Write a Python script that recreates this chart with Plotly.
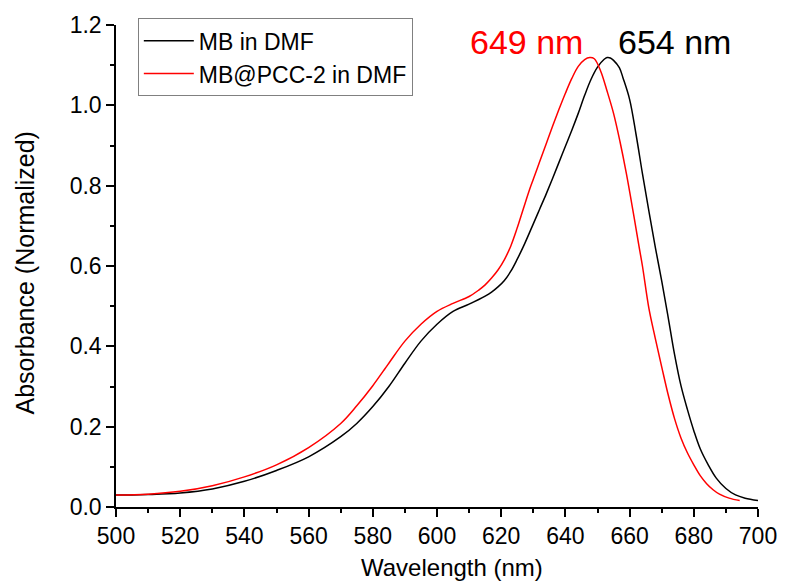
import plotly.graph_objects as go

# Wavelength (nm) / normalized absorbance
mb_x = [500, 505, 510, 520, 530, 540, 550, 560, 570, 575, 580, 585, 590, 595, 600, 605, 610,
        615, 617, 619, 621, 623, 625, 627, 630, 632, 634, 636, 638, 640, 642, 644, 646, 648,
        650, 652, 653, 654, 655, 656.8, 658, 660, 662, 664, 666, 668, 670, 672, 674, 676, 678,
        680, 682, 684.5, 687, 690, 693, 696, 700]
mb_y = [0.030, 0.030, 0.031, 0.035, 0.045, 0.064, 0.091, 0.125, 0.175, 0.208, 0.250, 0.300,
        0.358, 0.413, 0.455, 0.487, 0.505, 0.525, 0.535, 0.548, 0.564, 0.587, 0.617, 0.650,
        0.705, 0.742, 0.779, 0.818, 0.858, 0.898, 0.938, 0.980, 1.025, 1.065, 1.095, 1.114,
        1.119, 1.118, 1.112, 1.094, 1.067, 1.015, 0.928, 0.830, 0.737, 0.647, 0.563, 0.473,
        0.380, 0.302, 0.243, 0.190, 0.145, 0.105, 0.072, 0.046, 0.030, 0.022, 0.016]

pcc_x = [500, 510, 520, 530, 540, 550, 560, 570, 575, 580, 585, 590, 595, 600, 605, 610, 613,
         615, 617, 619, 621, 623, 625, 627, 629, 630, 632, 634, 636, 638, 640, 642, 644, 646,
         647.6, 649, 651, 653, 655, 657, 659, 661, 662.8, 664, 666, 668, 670, 672, 674, 676,
         678, 680, 682, 684, 686, 688, 691, 694.3]
pcc_y = [0.030, 0.032, 0.039, 0.053, 0.075, 0.105, 0.148, 0.208, 0.252, 0.302, 0.358, 0.413,
         0.455, 0.487, 0.507, 0.524, 0.540, 0.553, 0.570, 0.590, 0.616, 0.650, 0.695, 0.745,
         0.794, 0.816, 0.860, 0.904, 0.948, 0.990, 1.030, 1.067, 1.097, 1.114, 1.119, 1.116,
         1.085, 1.035, 0.980, 0.910, 0.830, 0.740, 0.655, 0.600, 0.495, 0.420, 0.349, 0.280,
         0.220, 0.172, 0.135, 0.105, 0.078, 0.058, 0.043, 0.032, 0.022, 0.016]

series_names = ["MB in DMF", "MB@PCC-2 in DMF"]
peak_labels = ["654 nm", "649 nm"]
x_ticks = list(range(500, 701, 20))
y_ticks = [0.0, 0.2, 0.4, 0.6, 0.8, 1.0, 1.2]

FONT = "Liberation Sans, Arial, sans-serif"

fig = go.Figure()
fig.add_trace(go.Scatter(x=mb_x, y=mb_y, mode="lines", name=series_names[0],
                         line=dict(color="black", width=1.5, shape="spline", smoothing=1.0)))
fig.add_trace(go.Scatter(x=pcc_x, y=pcc_y, mode="lines", name=series_names[1],
                         line=dict(color="#ff0000", width=1.5, shape="spline", smoothing=1.0)))

fig.update_layout(
    width=789, height=583,
    margin=dict(l=116, r=22, t=24, b=76),
    paper_bgcolor="white", plot_bgcolor="white",
    font=dict(family=FONT, size=23, color="black"),
    showlegend=True,
    legend=dict(x=0.034, y=1.014, xanchor="left", yanchor="top",
                bgcolor="white", bordercolor="#808080", borderwidth=1,
                font=dict(size=23, family=FONT), itemwidth=50, tracegroupgap=0),
    xaxis=dict(range=[500, 700], tickvals=x_ticks, ticktext=[str(v) for v in x_ticks],
               showline=True, linecolor="black", linewidth=1.5, mirror=False,
               ticks="outside", ticklen=8, tickwidth=1.5, tickcolor="black",
               showgrid=False, zeroline=False,
               minor=dict(dtick=10, tick0=500, ticks="outside", ticklen=4, tickwidth=1.5,
                          tickcolor="black", showgrid=False),
               tickfont=dict(size=23, family=FONT)),
    yaxis=dict(range=[0, 1.2], tickvals=y_ticks, ticktext=[f"{v:.1f}" for v in y_ticks],
               showline=True, linecolor="black", linewidth=1.5, mirror=False,
               ticks="outside", ticklen=8, tickwidth=1.5, tickcolor="black",
               showgrid=False, zeroline=False,
               minor=dict(dtick=0.1, tick0=0, ticks="outside", ticklen=4, tickwidth=1.5,
                          tickcolor="black", showgrid=False),
               tickfont=dict(size=23, family=FONT)),
)

fig.add_annotation(x=0.524, y=-0.126, xref="paper", yref="paper", text="Wavelength (nm)",
                   showarrow=False, xanchor="center", yanchor="middle",
                   font=dict(size=24, family=FONT, color="black"))
fig.add_annotation(x=-0.1413, y=0.485, xref="paper", yref="paper", text="Absorbance (Normalized)",
                   showarrow=False, textangle=-90, xanchor="center", yanchor="middle",
                   font=dict(size=25, family=FONT, color="black"))
fig.add_annotation(x=674.0, y=1.158, xref="x", yref="y", text=peak_labels[0],
                   showarrow=False, xanchor="center", yanchor="middle",
                   font=dict(size=34, family=FONT, color="black"))
fig.add_annotation(x=628.0, y=1.158, xref="x", yref="y", text=peak_labels[1],
                   showarrow=False, xanchor="center", yanchor="middle",
                   font=dict(size=34, family=FONT, color="#ff0000"))

fig.write_html("out.html")
